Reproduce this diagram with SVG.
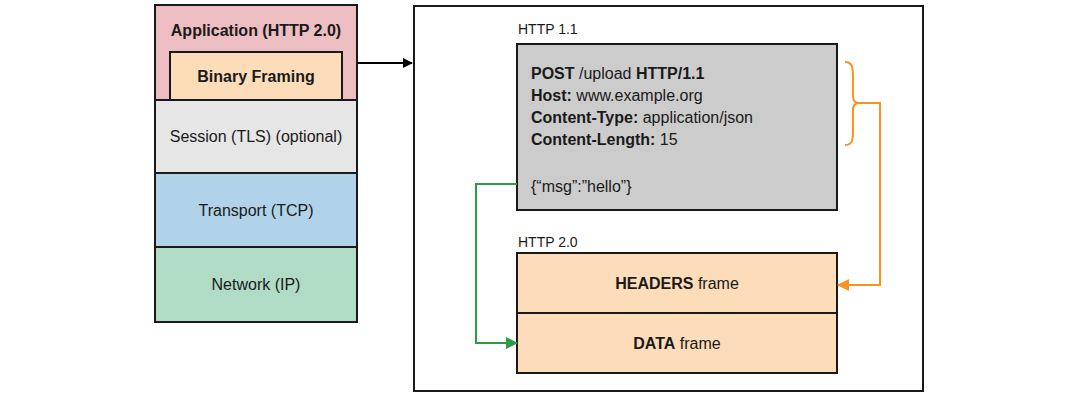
<svg xmlns="http://www.w3.org/2000/svg" width="1080" height="400" viewBox="0 0 1080 400">
<style>
.box{stroke:#1a1a1a;stroke-width:2}
.t{font-family:"Liberation Sans",Arial,sans-serif;font-size:16px;fill:#1a1a1a}
.b{font-weight:bold}
.c{text-anchor:middle}
</style>
<defs>
<marker id="ab" markerWidth="10" markerHeight="10" refX="9" refY="5" orient="auto" markerUnits="userSpaceOnUse"><path d="M0,0 L10,5 L0,10 Z" fill="#000"/></marker>
<marker id="ag" markerWidth="12" markerHeight="12" refX="11" refY="6" orient="auto" markerUnits="userSpaceOnUse"><path d="M0,0 L12,6 L0,12 Z" fill="#2e9a45"/></marker>
<marker id="ao" markerWidth="12" markerHeight="12" refX="11" refY="6" orient="auto" markerUnits="userSpaceOnUse"><path d="M0,0 L12,6 L0,12 Z" fill="#f7931e"/></marker>
</defs>
<rect width="1080" height="400" fill="#fff"/>
<g id="application"><rect class="box" x="155" y="5" width="202" height="95" fill="#ecbdc1"/><text class="t b c" x="256" y="36">Application (HTTP 2.0)</text></g>
<g id="binary-framing"><rect class="box" x="170" y="52" width="172" height="48" fill="#fddcb9"/><text class="t b c" x="256" y="82">Binary Framing</text></g>
<g id="session"><rect class="box" x="155" y="100" width="202" height="73" fill="#e6e6e6"/><text class="t c" x="256" y="142">Session (TLS) (optional)</text></g>
<g id="transport"><rect class="box" x="155" y="173" width="202" height="74" fill="#b0d3ea"/><text class="t c" x="256" y="216">Transport (TCP)</text></g>
<g id="network"><rect class="box" x="155" y="247" width="202" height="75" fill="#b0dcc6"/><text class="t c" x="256" y="290">Network (IP)</text></g>
<g id="container"><rect x="414" y="6" width="509" height="385" fill="none" stroke="#1a1a1a" stroke-width="2"/></g>
<g id="http11"><text class="t" x="518" y="34" style="font-size:14px">HTTP 1.1</text>
<rect class="box" x="517" y="44" width="320" height="166" fill="#cccccc"/>
<text class="t" x="531" y="79"><tspan class="b">POST</tspan> /upload <tspan class="b">HTTP/1.1</tspan></text>
<text class="t" x="531" y="101"><tspan class="b">Host:</tspan> www.example.org</text>
<text class="t" x="531" y="123"><tspan class="b">Content-Type:</tspan> application/json</text>
<text class="t" x="531" y="145"><tspan class="b">Content-Length:</tspan> 15</text>
<text class="t" x="531" y="192">{“msg”:”hello”}</text></g>
<g id="http20"><text class="t" x="518" y="247" style="font-size:14px">HTTP 2.0</text>
<rect class="box" x="517" y="253" width="320" height="60" fill="#fddcb9"/><text class="t c" x="677" y="289"><tspan class="b">HEADERS</tspan> frame</text>
<rect class="box" x="517" y="313" width="320" height="60" fill="#fddcb9"/><text class="t c" x="677" y="349"><tspan class="b">DATA</tspan> frame</text></g>
<g id="connectors" fill="none">
<path d="M357,63 L412,63" stroke="#000" stroke-width="2" marker-end="url(#ab)"/>
<path d="M517,184 L476,184 L476,343 L517,343" stroke="#2e9a45" stroke-width="2" marker-end="url(#ag)"/>
<path d="M845,62 C853,62 853,68 853,80 L853,96 C853,100 855,103 859,103 C855,103 853,106 853,110 L853,128 C853,140 853,145 845,145" stroke="#f7931e" stroke-width="2"/>
<path d="M859,103 L880,103 L880,285 L838,285" stroke="#f7931e" stroke-width="2" marker-end="url(#ao)"/>
</g>
</svg>
